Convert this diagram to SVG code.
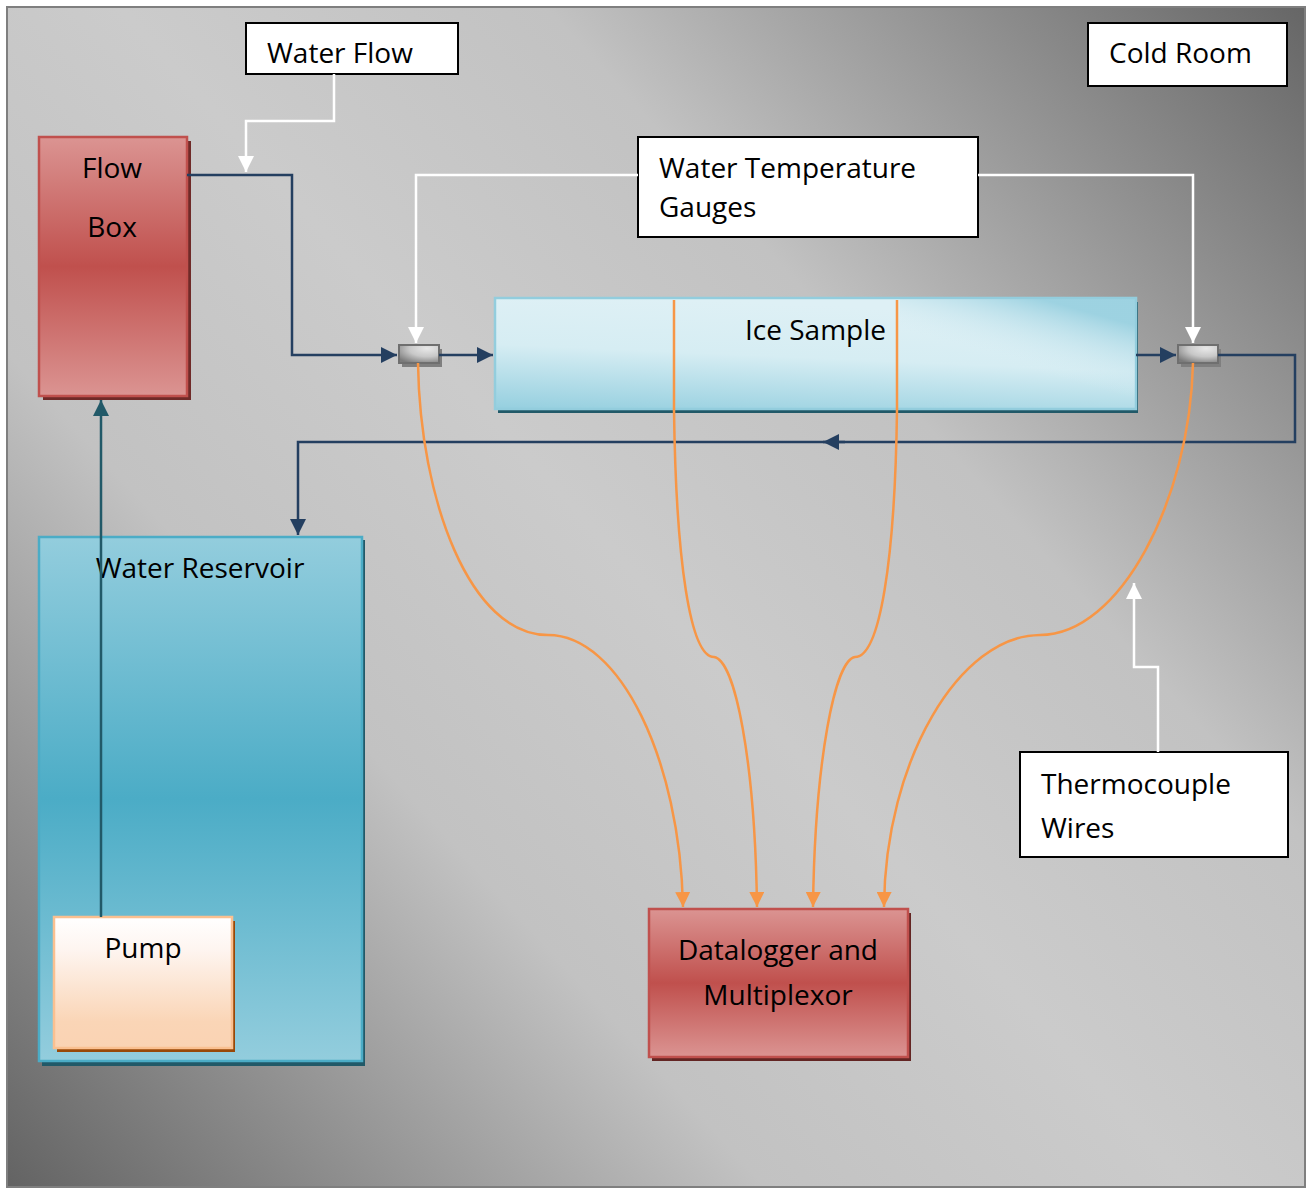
<svg xmlns="http://www.w3.org/2000/svg" width="1307" height="1188" viewBox="0 0 1307 1188">
  <defs>
    <linearGradient id="room" gradientUnits="userSpaceOnUse" x1="1305" y1="7" x2="7" y2="1187">
      <stop offset="0" stop-color="#666666"/>
      <stop offset="0.32" stop-color="#c2c2c2"/>
      <stop offset="0.5" stop-color="#cbcbcb"/>
      <stop offset="0.68" stop-color="#c2c2c2"/>
      <stop offset="1" stop-color="#636363"/>
    </linearGradient>
    <linearGradient id="red" x1="0" y1="0" x2="0" y2="1">
      <stop offset="0" stop-color="#db9492"/>
      <stop offset="0.5" stop-color="#c0504d"/>
      <stop offset="1" stop-color="#db9492"/>
    </linearGradient>
    <linearGradient id="ice" x1="0" y1="1" x2="0.25" y2="0">
      <stop offset="0" stop-color="#95cfdf"/>
      <stop offset="0.55" stop-color="#d6edf3"/>
      <stop offset="1" stop-color="#def0f5"/>
    </linearGradient>
    <linearGradient id="iceRight" x1="0" y1="1" x2="0.6" y2="0">
      <stop offset="0" stop-color="#def0f5" stop-opacity="0"/>
      <stop offset="0.5" stop-color="#def0f5" stop-opacity="0"/>
      <stop offset="1" stop-color="#96cfdf" stop-opacity="0.9"/>
    </linearGradient>
    <linearGradient id="reservoir" x1="0" y1="0" x2="0" y2="1">
      <stop offset="0" stop-color="#93cddd"/>
      <stop offset="0.5" stop-color="#4bacc6"/>
      <stop offset="1" stop-color="#93cddd"/>
    </linearGradient>
    <linearGradient id="pump" x1="0" y1="0" x2="0" y2="1">
      <stop offset="0" stop-color="#ffffff"/>
      <stop offset="0.25" stop-color="#fef5f0"/>
      <stop offset="0.8" stop-color="#fad5b6"/>
      <stop offset="1" stop-color="#fad3b3"/>
    </linearGradient>
    <radialGradient id="gauge" cx="0.7" cy="0.2" r="0.9">
      <stop offset="0" stop-color="#e8e8e8"/>
      <stop offset="0.5" stop-color="#c8c8c8"/>
      <stop offset="1" stop-color="#7a7a7a"/>
    </radialGradient>
    <marker id="navy" viewBox="0 0 10 10" refX="10" refY="5" markerWidth="16" markerHeight="16" markerUnits="userSpaceOnUse" orient="auto">
      <path d="M0,0 L10,5 L0,10 Z" fill="#243f60"/>
    </marker>
    <marker id="teal" viewBox="0 0 10 10" refX="10" refY="5" markerWidth="16" markerHeight="16" markerUnits="userSpaceOnUse" orient="auto">
      <path d="M0,0 L10,5 L0,10 Z" fill="#215968"/>
    </marker>
    <marker id="white" viewBox="0 0 10 10" refX="10" refY="5" markerWidth="16" markerHeight="16" markerUnits="userSpaceOnUse" orient="auto">
      <path d="M0,0 L10,5 L0,10 Z" fill="#ffffff"/>
    </marker>
    <marker id="orange" viewBox="0 0 10 10" refX="10" refY="5" markerWidth="15" markerHeight="15" markerUnits="userSpaceOnUse" orient="auto">
      <path d="M0,0 L10,5 L0,10 Z" fill="#f79646"/>
    </marker>
  </defs>
  <style>
    text { font-family: "Open Sans", "Liberation Sans", sans-serif; font-size: 28px; fill: #000000; }
    .label { fill: #ffffff; stroke: #000000; stroke-width: 2; }
    .pipe { fill: none; stroke: #243f60; stroke-width: 2.5; }
    .pointer { fill: none; stroke: #ffffff; stroke-width: 2.5; }
    .wire { fill: none; stroke: #f79646; stroke-width: 2.5; }
    .mid { text-anchor: middle; }
  </style>

  <!-- cold room enclosure -->
  <rect x="7" y="7" width="1298" height="1180" fill="url(#room)" stroke="#7f7f7f" stroke-width="2"/>

  <!-- flow box -->
  <g id="flow-box">
    <rect x="43" y="141" width="148" height="259" fill="#6f2a28"/>
    <rect x="39" y="137" width="148" height="259" fill="url(#red)" stroke="#c0504d" stroke-width="2.5"/>
    <text x="112" y="178" class="mid">Flow</text>
    <text x="112" y="237" class="mid">Box</text>
  </g>

  <!-- water reservoir -->
  <g id="water-reservoir">
    <rect x="42" y="540" width="323" height="526" fill="#215968"/>
    <rect x="39" y="537" width="323" height="524" fill="url(#reservoir)" stroke="#4bacc6" stroke-width="2.5"/>
    <text x="200" y="578" class="mid">Water Reservoir</text>
  </g>

  <!-- pump -->
  <g id="pump-unit">
    <rect x="57" y="921" width="178" height="131" fill="#984807"/>
    <rect x="54" y="917" width="178" height="131" fill="url(#pump)" stroke="#fac090" stroke-width="2.5"/>
    <text x="143" y="958" class="mid">Pump</text>
  </g>

  <!-- ice sample -->
  <g id="ice-sample">
    <rect x="498" y="302" width="640" height="111" fill="#215968"/>
    <rect x="495" y="298" width="641" height="111" fill="url(#ice)" stroke="#93cddd" stroke-width="2.5"/>
    <rect x="900" y="299" width="235" height="109" fill="url(#iceRight)"/>
    <text x="745" y="340">Ice Sample</text>
  </g>

  <!-- datalogger -->
  <g id="datalogger">
    <rect x="652" y="913" width="259" height="148" fill="#632523"/>
    <rect x="649" y="909" width="259" height="148" fill="url(#red)" stroke="#c0504d" stroke-width="2.5"/>
    <text x="778" y="960" class="mid">Datalogger and</text>
    <text x="778" y="1005" class="mid">Multiplexor</text>
  </g>

  <!-- temperature gauges -->
  <g id="gauge-inlet">
    <rect x="402" y="349" width="40" height="18" fill="#7f7f7f"/>
    <rect x="399" y="345" width="40" height="18" fill="url(#gauge)" stroke="#6f6f6f" stroke-width="2"/>
  </g>
  <g id="gauge-outlet">
    <rect x="1181" y="349" width="40" height="18" fill="#7f7f7f"/>
    <rect x="1178" y="345" width="40" height="18" fill="url(#gauge)" stroke="#6f6f6f" stroke-width="2"/>
  </g>

  <!-- callout labels -->
  <g id="water-flow-label">
    <rect x="246" y="23" width="212" height="51" class="label"/>
    <text x="267" y="63">Water Flow</text>
  </g>
  <g id="cold-room-label">
    <rect x="1088" y="23" width="199" height="63" class="label"/>
    <text x="1109" y="63">Cold Room</text>
  </g>
  <g id="gauges-label">
    <rect x="638" y="137" width="340" height="100" class="label"/>
    <text x="659" y="178">Water Temperature</text>
    <text x="659" y="217">Gauges</text>
  </g>
  <g id="thermocouple-label">
    <rect x="1020" y="752" width="268" height="105" class="label"/>
    <text x="1041" y="794">Thermocouple</text>
    <text x="1041" y="838">Wires</text>
  </g>

  <!-- connectors -->
  <g id="connectors">
    <!-- water circuit -->
    <path class="pipe" d="M187,175 H292 V355 H397" marker-end="url(#navy)"/>
    <path class="pipe" d="M439,355 H493" marker-end="url(#navy)"/>
    <path class="pipe" d="M1136,355 H1176" marker-end="url(#navy)"/>
    <path class="pipe" d="M1218,355 H1295 V442 H298 V535" marker-end="url(#navy)"/>
    <path class="pipe" d="M845,442 H823" marker-end="url(#navy)"/>
    <path d="M101,917 V400" fill="none" stroke="#215968" stroke-width="2.5" marker-end="url(#teal)"/>

    <!-- callout pointers -->
    <path class="pointer" d="M334,74 V121 H246 V172" marker-end="url(#white)"/>
    <path class="pointer" d="M638,175 H416 V343" marker-end="url(#white)"/>
    <path class="pointer" d="M978,175 H1193 V343" marker-end="url(#white)"/>
    <path class="pointer" d="M1158,752 V667 H1134 V583" marker-end="url(#white)"/>

    <!-- thermocouple wires -->
    <path class="wire" d="M418,363 C420,500 470,635 548,635 C620,635 680,760 683,907" marker-end="url(#orange)"/>
    <path class="wire" d="M674,300 V410 C676,560 690,657 714,657 C735,660 755,760 757,907" marker-end="url(#orange)"/>
    <path class="wire" d="M897,300 V410 C895,560 880,657 855,657 C835,660 815,760 813,907" marker-end="url(#orange)"/>
    <path class="wire" d="M1193,363 C1190,500 1120,635 1040,635 C960,635 885,760 884,907" marker-end="url(#orange)"/>
  </g>
</svg>
